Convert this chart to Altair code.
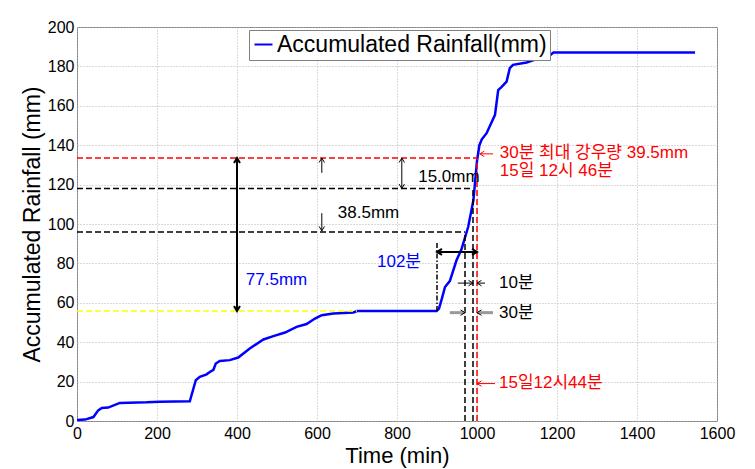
import altair as alt
import pandas as pd

# ---------------- data ----------------
time_min = [0, 20, 41, 53, 62, 78, 107, 174, 207, 282, 297, 307, 324, 332, 341, 347, 357,
            382, 403, 432, 466, 491, 520, 549, 574, 595, 612, 641, 691, 700, 899, 905,
            912, 920, 932, 949, 961, 978, 991, 1000, 1006, 1012, 1024, 1045, 1053, 1061,
            1074, 1082, 1090, 1124, 1149, 1174, 1191, 1545]
rain_mm = [0.5, 0.7, 2.0, 5.4, 6.6, 6.8, 9.2, 9.5, 9.8, 10.0, 20.7, 22.4, 23.7, 24.9, 26.0,
           29.2, 30.5, 30.9, 32.2, 36.8, 41.4, 43.1, 44.9, 47.8, 49.2, 52.0, 53.7, 54.6,
           55.1, 55.8, 55.8, 57.0, 62.0, 68.0, 71.0, 81.7, 87.0, 98.6, 112.0, 132.0,
           140.0, 143.0, 146.1, 155.4, 168.0, 169.5, 172.3, 179.1, 180.8, 182.0, 183.7,
           184.2, 187.0, 187.0]
series_name = "Accumulated Rainfall(mm)"

x_ticks = [0, 200, 400, 600, 800, 1000, 1200, 1400, 1600]
y_ticks = [0, 20, 40, 60, 80, 100, 120, 140, 160, 180, 200]

# horizontal reference levels (value, end time)
red_level = [133.5]; red_level_end = [1000]
black_levels = [118, 96]; black_levels_end = [990, 970]
yellow_level = [55.8]; yellow_level_end = [700]

# vertical reference times (time, from, to)
black_vert_t = [970, 990]; black_vert_from = [0, 0]; black_vert_to = [96, 118]
red_vert_t = [1000]; red_vert_from = [0]; red_vert_to = [133.5]
dashdot_t = [900]; dashdot_from = [55.8]; dashdot_to = [91]

# arrow shafts (t1, r1, t2, r2)
thick_shafts = [(400, 55.8, 400, 133.5), (900, 85.8, 1000, 85.8)]
thin_shafts = [(612, 126, 612, 133.5), (612, 105.5, 612, 96.5), (812, 118, 812, 133.5),
               (952, 70, 990, 70), (1020, 70, 1000, 70)]
grey_shafts = [(932, 55, 970, 55), (1040, 55, 1000, 55)]
red_shafts = [(1040, 135.6, 1007, 135.6), (1045, 19, 1000, 19)]

# arrow heads (t, r, direction)
thick_heads = [(400, 133.5, "up"), (400, 55.8, "down"), (900, 85.8, "left"), (1000, 85.8, "right")]
thin_heads = [(612, 133.5, "up"), (612, 96.5, "down"), (812, 133.5, "up"), (812, 118, "down"),
              (990, 70, "right"), (1000, 70, "left"), (970, 55, "right"), (1000, 55, "left")]
red_heads = [(1007, 135.6, "left"), (1000, 19, "left")]

# labels (text, t, r)
black_labels = [("38.5mm", 652, 105.8), ("15.0mm", 853, 123.9), ("10분", 1055, 70), ("30분", 1055, 54.9)]
blue_left_labels = [("77.5mm", 422, 71.5)]
blue_right_labels = [("102분", 860, 80.8)]
red_labels = [("30분 최대 강우량 39.5mm", 1057, 136.1), ("15일 12시 46분", 1057, 126.9),
              ("15일12시44분", 1055, 19.4)]

# ---------------- chart ----------------
FONT = "Liberation Sans, Noto Sans CJK KR"
xs = alt.Scale(domain=[0, 1600], nice=False, zero=False)
ys = alt.Scale(domain=[0, 200], nice=False, zero=False)
x_axis = alt.Axis(values=x_ticks, title="Time (min)", labelPadding=4, labelFlush=False,
                  titleBaseline="alphabetic", titleY=41, titleFontSize=22, format="d")
y_axis = alt.Axis(values=y_ticks, title="Accumulated Rainfall (mm)", labelPadding=3,
                  labelFlush=False, titleBaseline="alphabetic", titleX=-38, format="d")


def X(field):
    return alt.X(field, scale=xs, axis=x_axis, title="Time (min)")


def Y(field):
    return alt.Y(field, scale=ys, axis=y_axis, title="Accumulated Rainfall (mm)")


DASH = [6, 3]


def hrule(levels, ends, color, dash, width=1.5):
    df = pd.DataFrame({"t": [0] * len(levels), "t2": ends, "r": levels})
    return alt.Chart(df).mark_rule(color=color, strokeWidth=width, strokeDash=dash).encode(
        x=X("t:Q"), x2="t2:Q", y=Y("r:Q"))


def vrule(ts, r1, r2, color, dash, width=1.5):
    df = pd.DataFrame({"t": ts, "r": r1, "r2": r2})
    return alt.Chart(df).mark_rule(color=color, strokeWidth=width, strokeDash=dash).encode(
        x=X("t:Q"), y=Y("r:Q"), y2="r2:Q")


def shafts(segs, color, width):
    df = pd.DataFrame(segs, columns=["t", "r", "t2", "r2"])
    return alt.Chart(df).mark_rule(color=color, strokeWidth=width).encode(
        x=X("t:Q"), x2="t2:Q", y=Y("r:Q"), y2="r2:Q")


HEAD_DIRS = ["up", "down", "left", "right"]
HEAD_PATHS = ["M-0.6,1L0,0L0.6,1", "M-0.6,-1L0,0L0.6,-1",
              "M1,-0.6L0,0L1,0.6", "M-1,-0.6L0,0L-1,0.6"]


def heads(items, color, width, size):
    df = pd.DataFrame(items, columns=["t", "r", "d"])
    return alt.Chart(df).mark_point(filled=False, color=color, strokeWidth=width, size=size,
                                    opacity=1).encode(
        x=X("t:Q"), y=Y("r:Q"),
        shape=alt.Shape("d:N", scale=alt.Scale(domain=HEAD_DIRS, range=HEAD_PATHS), legend=None))


def labels(items, color, align, size=17):
    df = pd.DataFrame(items, columns=["txt", "t", "r"])
    return alt.Chart(df).mark_text(color=color, align=align, baseline="middle",
                                   font=FONT, fontSize=size).encode(
        x=X("t:Q"), y=Y("r:Q"), text="txt:N")


main_df = pd.DataFrame({"t": time_min, "r": rain_mm, "s": [series_name] * len(time_min)})
main = alt.Chart(main_df).mark_line(strokeWidth=2.5).encode(
    x=X("t:Q"),
    y=Y("r:Q"),
    color=alt.Color("s:N", scale=alt.Scale(domain=[series_name], range=["#0000ff"]),
                    legend=alt.Legend(title=None, orient="none", legendX=172, legendY=3,
                                      symbolType="stroke", symbolSize=324, symbolStrokeWidth=2,
                                      labelFont="Liberation Sans", labelFontSize=23,
                                      labelColor="black", labelOffset=2, labelLimit=500,
                                      padding=3, strokeColor="#808080", fillColor="white")),
)

chart = alt.layer(
    main,
    hrule(yellow_level, yellow_level_end, "#ffff00", DASH),
    hrule(black_levels, black_levels_end, "black", DASH),
    hrule(red_level, red_level_end, "#ff0000", DASH),
    vrule(black_vert_t, black_vert_from, black_vert_to, "black", DASH),
    vrule(red_vert_t, red_vert_from, red_vert_to, "#ff0000", DASH),
    vrule(dashdot_t, dashdot_from, dashdot_to, "black", [5, 2, 1.5, 2]),
    shafts(grey_shafts, "#999999", 3),
    shafts(thick_shafts, "black", 2),
    shafts(thin_shafts, "black", 1),
    shafts(red_shafts, "#ff0000", 1),
    heads(thick_heads, "black", 2, 100),
    heads(thin_heads, "black", 1, 80),
    heads(red_heads, "#ff0000", 1, 80),
    labels(black_labels, "black", "left"),
    labels(blue_left_labels, "#0000ff", "left"),
    labels(blue_right_labels, "#0000ff", "right"),
    labels(red_labels, "#ff0000", "left"),
).properties(
    width=640, height=394,
    autosize=alt.AutoSizeParams(type="none"),
    padding={"left": 77, "top": 27, "right": 38, "bottom": 48},
).configure_view(
    stroke="#808080", strokeWidth=1
).configure_axis(
    grid=True, gridDash=[1, 2], gridColor="#b5b5b5", gridWidth=1,
    domain=False, ticks=False,
    labelFont="Liberation Sans", labelFontSize=16, labelColor="black",
    titleFont="Liberation Sans", titleFontSize=23, titleFontWeight="normal", titleColor="black",
)

chart.save("out.html", embed_options={"renderer": "svg", "actions": False})
